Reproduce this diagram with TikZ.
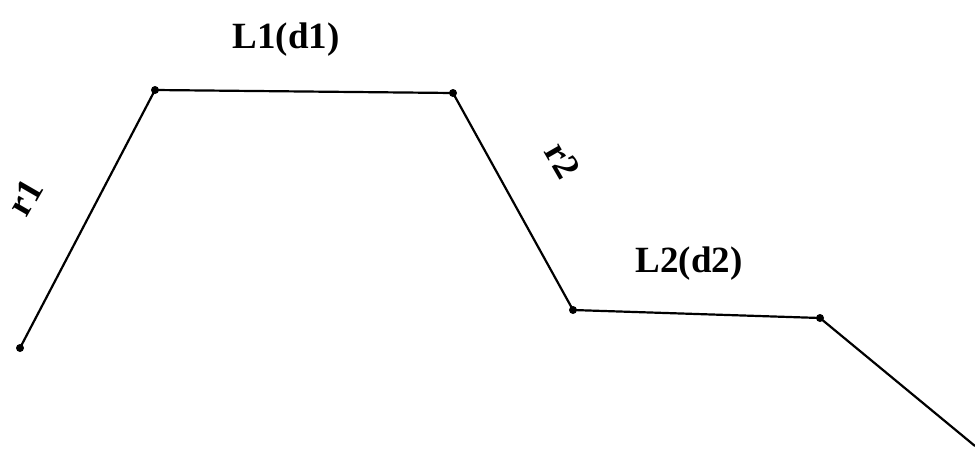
\documentclass[tikz,border=0pt]{standalone}
\usepackage{fontspec}
\setmainfont{Liberation Serif}
\begin{document}
\begin{tikzpicture}[x=1pt,y=-1pt,
  pt/.style={circle,fill=black,inner sep=0pt,minimum size=8pt},
  seg/.style={line width=2.2pt,black},
  lbl/.style={font=\fontsize{37}{40}\selectfont\bfseries,inner sep=0pt}]
\useasboundingbox (0,0) rectangle (975,450);
\node[pt] (p1) at (20,348) {};
\node[pt] (p2) at (155,90) {};
\node[pt] (p3) at (453,93) {};
\node[pt] (p4) at (573,310) {};
\node[pt] (p5) at (820,318) {};
\coordinate (p6) at (975,446);
\draw[seg] (p1.center) -- (p2.center) -- (p3.center) -- (p4.center) -- (p5.center) -- (p6);
\node[lbl] (l1) at (286,40) {L1(d1)};
\node[lbl] (l2) at (689,264) {L2(d2)};
\node[lbl,rotate=60] (r1) at (25,197) {r1};
\node[lbl,rotate=-60] (r2) at (563,160) {r2};
\end{tikzpicture}
\end{document}
